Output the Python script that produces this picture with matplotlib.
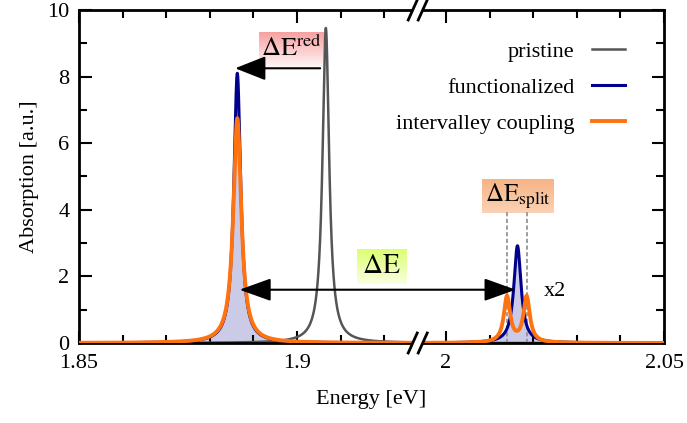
import numpy as np
import matplotlib
matplotlib.use("Agg")
import matplotlib.pyplot as plt
from matplotlib.ticker import FixedLocator, FixedFormatter
from matplotlib.colors import to_rgb

plt.rcParams['font.family'] = ['Liberation Serif', 'DejaVu Serif']
plt.rcParams['mathtext.fontset'] = 'stix'

# peaks: position [eV], height [a.u.], half width [eV]
pristine_pos = [1.9066]
pristine_amp = [9.46]
pristine_hw = [0.00092]

func_pos = [1.8863, 2.0164]
func_amp = [8.1, 2.92]
func_hw = [0.00095, 0.00100]

coup_pos = [1.8863, 2.0140, 2.0185]
coup_amp = [6.75, 1.37, 1.37]
coup_hw = [0.00110, 0.00088, 0.00088]

split_lines = [2.0139, 2.0185]

# broken energy axis
e_lo, e_break_a, e_break_b, e_hi = 1.85, 1.9270, 1.9942, 2.05
major_ticks = [1.85, 1.9, 2.0, 2.05]
major_labels = ['1.85', '1.9', '2', '2.05']
minor_ticks = [1.86, 1.87, 1.88, 1.89, 1.91, 1.92, 2.01, 2.02, 2.03, 2.04]


def lorentz(e, pos, amp, hw):
    out = np.zeros_like(e)
    for p, a, w in zip(pos, amp, hw):
        out += a * w**2 / ((e - p)**2 + w**2)
    return out


gap = e_break_b - e_break_a
eps = 0.02


def fwd(x):
    x = np.asarray(x, float)
    return np.where(x <= e_break_a, x,
                    np.where(x >= e_break_b, x - gap * (1 - eps),
                             e_break_a + (x - e_break_a) * eps))


def inv(y):
    y = np.asarray(y, float)
    yb = e_break_a + gap * eps
    return np.where(y <= e_break_a, y,
                    np.where(y >= yb, y + gap * (1 - eps),
                             e_break_a + (y - e_break_a) / eps))


e = np.concatenate([np.linspace(e_lo, e_break_a, 4000), [np.nan],
                    np.linspace(e_break_b, e_hi, 4000)])
y_pr = lorentz(e, pristine_pos, pristine_amp, pristine_hw)
y_fu = lorentz(e, func_pos, func_amp, func_hw)
y_co = lorentz(e, coup_pos, coup_amp, coup_hw)

fig = plt.figure(figsize=(6.87, 4.23), dpi=100)
ax = fig.add_axes([79 / 687, 80 / 423, 585 / 687, 333 / 423])
ax.set_xscale('function', functions=(fwd, inv))

ax.fill_between(e, 0, y_fu, color='#cbcbe8', lw=0, zorder=1)
ax.plot(e, y_pr, color='#555555', lw=1.8, label='pristine', zorder=2)
ax.vlines(split_lines, 0, 3.98, colors='#8c8c8c', linestyles=(0, (2.5, 1.5)), lw=1.2, zorder=2.5)
ax.plot(e, y_fu, color='#00008c', lw=2.2, label='functionalized', zorder=3)
ax.plot(e, y_co, color='#ff7210', lw=2.8, label='intervalley coupling', zorder=4)

ax.set_xlim(e_lo, e_hi)
ax.set_ylim(0, 10)
ax.set_autoscale_on(False)

ax.xaxis.set_major_locator(FixedLocator(major_ticks))
ax.xaxis.set_major_formatter(FixedFormatter(major_labels))
ax.xaxis.set_minor_locator(FixedLocator(minor_ticks))
ax.set_yticks([0, 2, 4, 6, 8, 10])
ax.set_yticks([1, 3, 5, 7, 9], minor=True)
ax.tick_params(which='both', direction='in', top=True, right=True, width=1.5, labelsize=16)
ax.tick_params(which='major', length=9)
ax.tick_params(which='minor', length=5.5)
ax.tick_params(axis='y', pad=7)
ax.tick_params(axis='x', pad=8)
for s in ax.spines.values():
    s.set_linewidth(2)

ax.set_xlabel('Energy [eV]', fontsize=16, labelpad=12)
ax.set_ylabel('Absorption [a.u.]', fontsize=16, labelpad=6)

ax.legend(loc='upper right', bbox_to_anchor=(0.968, 0.965), frameon=False, markerfirst=False,
          fontsize=16, handlelength=1.5, labelspacing=0.68, handletextpad=0.8)

# arrows
ax.annotate('', xy=(1.8858, 8.25), xytext=(1.9053, 8.25),
            arrowprops=dict(arrowstyle='-|>,head_length=1.9,head_width=0.75', mutation_scale=10,
                            color='k', lw=1.5, shrinkA=0, shrinkB=0), zorder=6)
ax.annotate('', xy=(1.8868, 1.6), xytext=(2.0160, 1.6),
            arrowprops=dict(arrowstyle='<|-|>,head_length=1.95,head_width=0.7', mutation_scale=10,
                            color='k', lw=1.5, shrinkA=0, shrinkB=0), zorder=6)

t_red = ax.text(1.8987, 8.86, r'$\Delta\mathrm{E}^{\mathrm{red}}$', fontsize=19,
                ha='center', va='center', zorder=6)
t_de = ax.text(1.9194, 2.3, r'$\Delta\mathrm{E}$', fontsize=20, ha='center', va='center', zorder=6)
t_split = ax.text(2.0164, 4.4, r'$\Delta\mathrm{E}_{\mathrm{split}}$', fontsize=18,
                  ha='center', va='center', zorder=6)
ax.text(2.0250, 1.55, 'x2', fontsize=16, ha='center', va='center', zorder=6)

# broken axis marks
fig.canvas.draw()
renderer = fig.canvas.get_renderer()
xb = ax.transAxes.inverted().transform(ax.transData.transform((0.5 * (e_break_a + e_break_b), 0)))[0]
aw, ah = 585.0, 333.0
for yb in (0.0, 1.0):
    dx1, dx2 = 5.0 / aw, 4.5 / aw
    dy = 10.0 / ah
    poly = [(xb - dx1 - dx2, yb - dy), (xb - dx1 + dx2, yb + dy),
            (xb + dx1 + dx2, yb + dy), (xb + dx1 - dx2, yb - dy)]
    ax.add_patch(plt.Polygon(poly, closed=True, transform=ax.transAxes, fc='white', ec='none',
                             clip_on=False, zorder=7))
    for c in (-dx1, dx1):
        ax.plot([xb + c - dx2, xb + c + dx2], [yb - dy, yb + dy], color='k', lw=2,
                transform=ax.transAxes, clip_on=False, zorder=8)


def grad_box(t, c_top, c_bot, pads):
    bb = t.get_window_extent(renderer)
    l, r, b, tp = pads
    inv_ax = ax.transAxes.inverted()
    (x0, y0), (x1, y1) = inv_ax.transform([[bb.x0 - l, bb.y0 - b], [bb.x1 + r, bb.y1 + tp]])
    f = np.linspace(0, 1, 64)[:, None, None]
    img = (1 - f) * np.array(to_rgb(c_top)) + f * np.array(to_rgb(c_bot))
    ax.imshow(img, extent=[x0, x1, y0, y1], transform=ax.transAxes, aspect='auto',
              interpolation='bilinear', zorder=0.5, origin='upper')


grad_box(t_red, '#f7a0a0', '#fff6f6', (2, 2, 6, 2))
grad_box(t_de, '#dcff70', '#f8ffe0', (5, 6, 5, 5))
grad_box(t_split, '#f6b486', '#fbd2b4', (3, 3, 2, 2))
ax.set_xlim(e_lo, e_hi)
ax.set_ylim(0, 10)

fig.savefig('out.png', dpi=100)
